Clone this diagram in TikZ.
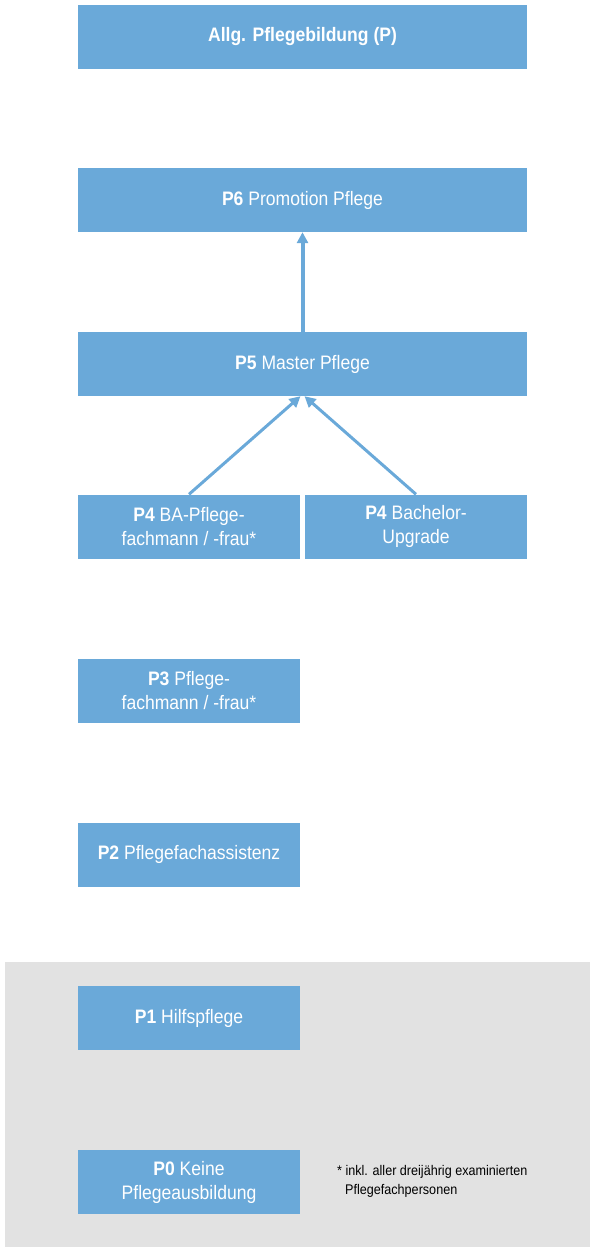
\documentclass[tikz,border=0pt]{standalone}
\usepackage{fontspec}
\setmainfont{Liberation Sans}[FakeStretch=0.9]
\usepackage{tikz}
\usetikzlibrary{arrows.meta}
\usetikzlibrary{positioning}
\definecolor{boxblue}{RGB}{106,169,217}
\definecolor{lowgrey}{RGB}{226,226,226}

\begin{document}
\begin{tikzpicture}[x=1pt,y=-1pt,>={Triangle[length=11pt,width=11pt]},
  main node/.style={rectangle,fill=boxblue,text=white,minimum height=64pt,
    inner sep=0pt,align=center,font=\fontsize{19.5}{24}\selectfont},
  wide node/.style={main node,minimum width=449pt},
  half node/.style={main node,minimum width=222pt}]

  \useasboundingbox (0,0) rectangle (590,1247);
  \fill[lowgrey] (5,962) rectangle (590,1247);

  \node[wide node] (p) at (302.5,37) {\textbf{Allg. Pflegebildung (P)}};
  \node[wide node] (6) at (302.5,200) {\textbf{P6} Promotion Pflege};
  \node[wide node] (5) at (302.5,364) {\textbf{P5} Master Pflege};
  \node[half node] (4a) at (189,526.5) {\textbf{P4} BA-Pflege-\\fachmann / -frau*};
  \node[half node] (4b) at (416,526.5) {\textbf{P4} Bachelor-\\Upgrade};
  \node[half node] (3) at (189,690.5) {\textbf{P3} Pflege-\\fachmann / -frau*};
  \node[half node] (2) at (189,854.5) {\textbf{P2} Pflegefachassistenz};
  \node[half node] (1) at (189,1018) {\textbf{P1} Hilfspflege};
  \node[half node] (0) at (189,1182) {\textbf{P0} Keine\\Pflegeausbildung};
  \node[anchor=west,align=left,inner sep=0pt,font=\fontsize{14}{19}\selectfont]
    (note) at (337,1181) {* inkl. aller dreijährig examinierten\\\hspace*{8pt}Pflegefachpersonen};

  \path[->,color=boxblue,line width=3pt]
    (5.north) edge [line width=4pt] (6.south)
    (4a.north) edge ([xshift=-2pt]5.south)
    (4b.north) edge ([xshift=2pt]5.south);
\end{tikzpicture}
\end{document}
